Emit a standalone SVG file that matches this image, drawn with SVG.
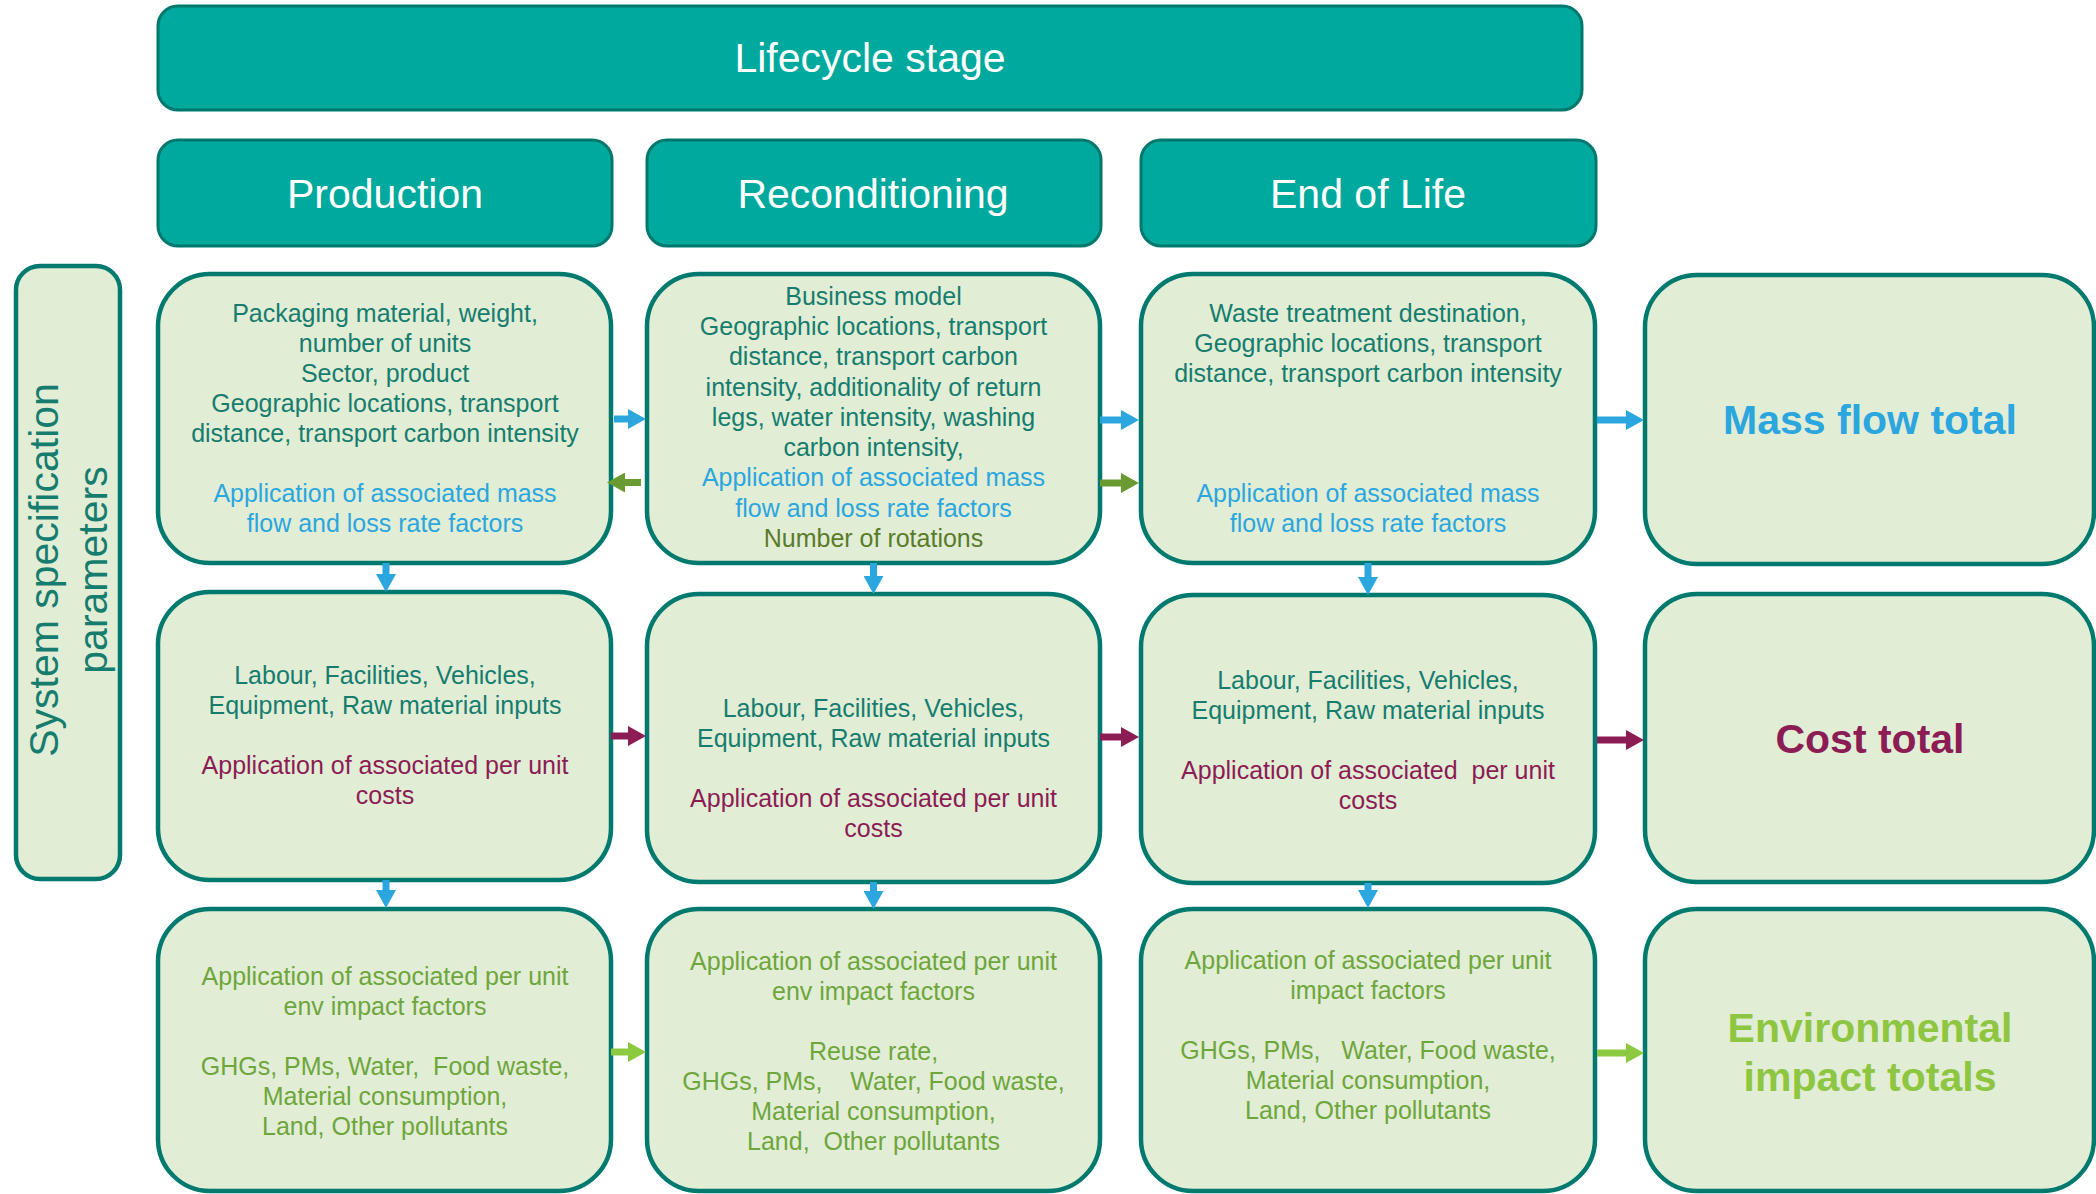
<svg xmlns="http://www.w3.org/2000/svg" width="2096" height="1194" viewBox="0 0 2096 1194">
  <style>
    text { font-family: "Liberation Sans", Arial, sans-serif; }
    .hdr { fill: #00a99d; stroke: #00786d; stroke-width: 3; }
    .hdr-t { fill: #ffffff; font-size: 41px; text-anchor: middle; }
    .box { fill: #e2edd6; stroke: #007a6e; stroke-width: 4.5; }
    .t { font-size: 25px; text-anchor: middle; }
    .teal { fill: #167d6e; }
    .blue { fill: #2ba6de; }
    .maroon { fill: #8c1c54; }
    .olive { fill: #5a7b29; }
    .grn { fill: #6ea63c; }
    .total { font-size: 41px; font-weight: bold; text-anchor: middle; }
    .side-t { font-size: 41px; text-anchor: middle; fill: #167d6e; }
    .c-blue { stroke: #2ba6de; }
    .c-olive { stroke: #6a9a32; }
    .c-maroon { stroke: #8c1c54; }
    .c-lgreen { stroke: #8cc840; }
    .conn line { stroke-width: 7; fill: none; }
  </style>
  <defs>
    <marker id="ah-blue" markerUnits="userSpaceOnUse" markerWidth="18" markerHeight="20" refX="0" refY="10" orient="auto">
      <path d="M0,0 L18,10 L0,20 z" fill="#2ba6de"/>
    </marker>
    <marker id="ah-olive" markerUnits="userSpaceOnUse" markerWidth="18" markerHeight="20" refX="0" refY="10" orient="auto">
      <path d="M0,0 L18,10 L0,20 z" fill="#6a9a32"/>
    </marker>
    <marker id="ah-maroon" markerUnits="userSpaceOnUse" markerWidth="18" markerHeight="20" refX="0" refY="10" orient="auto">
      <path d="M0,0 L18,10 L0,20 z" fill="#8c1c54"/>
    </marker>
    <marker id="ah-lgreen" markerUnits="userSpaceOnUse" markerWidth="18" markerHeight="20" refX="0" refY="10" orient="auto">
      <path d="M0,0 L18,10 L0,20 z" fill="#8cc840"/>
    </marker>
  </defs>

  <rect width="2096" height="1194" fill="#ffffff"/>

  <!-- Header bars -->
  <g id="lifecycle-stage">
    <rect class="hdr" x="158" y="6" width="1424" height="104" rx="20"/>
    <text class="hdr-t" x="870" y="72">Lifecycle stage</text>
  </g>
  <g id="hdr-production">
    <rect class="hdr" x="158" y="140" width="454" height="106" rx="20"/>
    <text class="hdr-t" x="385" y="208">Production</text>
  </g>
  <g id="hdr-reconditioning">
    <rect class="hdr" x="647" y="140" width="454" height="106" rx="20"/>
    <text class="hdr-t" x="873" y="208">Reconditioning</text>
  </g>
  <g id="hdr-end-of-life">
    <rect class="hdr" x="1141" y="140" width="455" height="106" rx="20"/>
    <text class="hdr-t" x="1368" y="208">End of Life</text>
  </g>

  <!-- Side label -->
  <g id="system-spec">
    <rect class="box" x="16" y="266" width="104" height="613" rx="24"/>
    <text class="side-t" transform="translate(58,570) rotate(-90)" x="0" y="0">System specification</text>
    <text class="side-t" transform="translate(107,570) rotate(-90)" x="0" y="0">parameters</text>
  </g>

  <!-- Row 1: mass flow -->
  <g id="prod-mass">
    <rect class="box" x="158" y="274" width="453" height="289" rx="52"/>
    <text class="t teal" x="385" y="322">Packaging material, weight,</text>
    <text class="t teal" x="385" y="352">number of units</text>
    <text class="t teal" x="385" y="382">Sector, product</text>
    <text class="t teal" x="385" y="412">Geographic locations, transport</text>
    <text class="t teal" x="385" y="442">distance, transport carbon intensity</text>
    <text class="t blue" x="385" y="502">Application of associated mass</text>
    <text class="t blue" x="385" y="532">flow and loss rate factors</text>
  </g>
  <g id="recon-mass">
    <rect class="box" x="647" y="274" width="453" height="289" rx="52"/>
    <text class="t teal" x="873.5" y="305">Business model</text>
    <text class="t teal" x="873.5" y="335">Geographic locations, transport</text>
    <text class="t teal" x="873.5" y="365">distance, transport carbon</text>
    <text class="t teal" x="873.5" y="396">intensity, additionality of return</text>
    <text class="t teal" x="873.5" y="426">legs, water intensity, washing</text>
    <text class="t teal" x="873.5" y="456">carbon intensity,</text>
    <text class="t blue" x="873.5" y="486">Application of associated mass</text>
    <text class="t blue" x="873.5" y="517">flow and loss rate factors</text>
    <text class="t olive" x="873.5" y="547">Number of rotations</text>
  </g>
  <g id="eol-mass">
    <rect class="box" x="1141" y="274" width="454" height="289" rx="52"/>
    <text class="t teal" x="1368" y="322">Waste treatment destination,</text>
    <text class="t teal" x="1368" y="352">Geographic locations, transport</text>
    <text class="t teal" x="1368" y="382">distance, transport carbon intensity</text>
    <text class="t blue" x="1368" y="502">Application of associated mass</text>
    <text class="t blue" x="1368" y="532">flow and loss rate factors</text>
  </g>
  <g id="mass-total">
    <rect class="box" x="1645" y="275" width="449" height="289" rx="52"/>
    <text class="total blue" x="1870" y="434">Mass flow total</text>
  </g>

  <!-- Row 2: cost -->
  <g id="prod-cost">
    <rect class="box" x="158" y="592" width="453" height="288" rx="52"/>
    <text class="t teal" x="385" y="684">Labour, Facilities, Vehicles,</text>
    <text class="t teal" x="385" y="714">Equipment, Raw material inputs</text>
    <text class="t maroon" x="385" y="774">Application of associated per unit</text>
    <text class="t maroon" x="385" y="804">costs</text>
  </g>
  <g id="recon-cost">
    <rect class="box" x="647" y="594" width="453" height="288" rx="52"/>
    <text class="t teal" x="873.5" y="717">Labour, Facilities, Vehicles,</text>
    <text class="t teal" x="873.5" y="747">Equipment, Raw material inputs</text>
    <text class="t maroon" x="873.5" y="807">Application of associated per unit</text>
    <text class="t maroon" x="873.5" y="837">costs</text>
  </g>
  <g id="eol-cost">
    <rect class="box" x="1141" y="595" width="454" height="288" rx="52"/>
    <text class="t teal" x="1368" y="689">Labour, Facilities, Vehicles,</text>
    <text class="t teal" x="1368" y="719">Equipment, Raw material inputs</text>
    <text class="t maroon" x="1368" y="779" xml:space="preserve">Application of associated  per unit</text>
    <text class="t maroon" x="1368" y="809">costs</text>
  </g>
  <g id="cost-total">
    <rect class="box" x="1645" y="594" width="449" height="288" rx="52"/>
    <text class="total maroon" x="1870" y="753">Cost total</text>
  </g>

  <!-- Row 3: environmental impact -->
  <g id="prod-env">
    <rect class="box" x="158" y="909" width="453" height="282" rx="52"/>
    <text class="t grn" x="385" y="985">Application of associated per unit</text>
    <text class="t grn" x="385" y="1015">env impact factors</text>
    <text class="t grn" x="385" y="1075" xml:space="preserve">GHGs, PMs, Water,  Food waste,</text>
    <text class="t grn" x="385" y="1105">Material consumption,</text>
    <text class="t grn" x="385" y="1135">Land, Other pollutants</text>
  </g>
  <g id="recon-env">
    <rect class="box" x="647" y="909" width="453" height="282" rx="52"/>
    <text class="t grn" x="873.5" y="970">Application of associated per unit</text>
    <text class="t grn" x="873.5" y="1000">env impact factors</text>
    <text class="t grn" x="873.5" y="1060">Reuse rate,</text>
    <text class="t grn" x="873.5" y="1090" xml:space="preserve">GHGs, PMs,    Water, Food waste,</text>
    <text class="t grn" x="873.5" y="1120">Material consumption,</text>
    <text class="t grn" x="873.5" y="1150" xml:space="preserve">Land,  Other pollutants</text>
  </g>
  <g id="eol-env">
    <rect class="box" x="1141" y="909" width="454" height="282" rx="52"/>
    <text class="t grn" x="1368" y="969">Application of associated per unit</text>
    <text class="t grn" x="1368" y="999">impact factors</text>
    <text class="t grn" x="1368" y="1059" xml:space="preserve">GHGs, PMs,   Water, Food waste,</text>
    <text class="t grn" x="1368" y="1089">Material consumption,</text>
    <text class="t grn" x="1368" y="1119">Land, Other pollutants</text>
  </g>
  <g id="env-total">
    <rect class="box" x="1645" y="909" width="449" height="282" rx="52"/>
    <text class="total" fill="#8ec641" x="1870" y="1042">Environmental</text>
    <text class="total" fill="#8ec641" x="1870" y="1091">impact totals</text>
  </g>

  <!-- Connectors -->
  <g id="connectors" class="conn">
    <!-- mass flow row -->
    <line class="c-blue" x1="614" y1="419" x2="628" y2="419" marker-end="url(#ah-blue)"/>
    <line class="c-blue" x1="1100" y1="420" x2="1121" y2="420" marker-end="url(#ah-blue)"/>
    <line class="c-blue" x1="1597" y1="420" x2="1626" y2="420" marker-end="url(#ah-blue)"/>
    <line class="c-olive" x1="641" y1="482.5" x2="625" y2="482.5" marker-end="url(#ah-olive)"/>
    <line class="c-olive" x1="1100" y1="483" x2="1121" y2="483" marker-end="url(#ah-olive)"/>
    <!-- cost row -->
    <line class="c-maroon" x1="611" y1="736" x2="628" y2="736" marker-end="url(#ah-maroon)"/>
    <line class="c-maroon" x1="1100" y1="737" x2="1121" y2="737" marker-end="url(#ah-maroon)"/>
    <line class="c-maroon" x1="1597" y1="740" x2="1626" y2="740" marker-end="url(#ah-maroon)"/>
    <!-- environmental row -->
    <line class="c-lgreen" x1="611" y1="1052" x2="628" y2="1052" marker-end="url(#ah-lgreen)"/>
    <line class="c-lgreen" x1="1597" y1="1053" x2="1626" y2="1053" marker-end="url(#ah-lgreen)"/>
    <!-- downward links between rows -->
    <line class="c-blue" x1="386" y1="563" x2="386" y2="574" marker-end="url(#ah-blue)"/>
    <line class="c-blue" x1="386" y1="880" x2="386" y2="890" marker-end="url(#ah-blue)"/>
    <line class="c-blue" x1="873.5" y1="563" x2="873.5" y2="576" marker-end="url(#ah-blue)"/>
    <line class="c-blue" x1="873.5" y1="882" x2="873.5" y2="891" marker-end="url(#ah-blue)"/>
    <line class="c-blue" x1="1368" y1="563" x2="1368" y2="577" marker-end="url(#ah-blue)"/>
    <line class="c-blue" x1="1368" y1="883" x2="1368" y2="890" marker-end="url(#ah-blue)"/>
  </g>
</svg>
